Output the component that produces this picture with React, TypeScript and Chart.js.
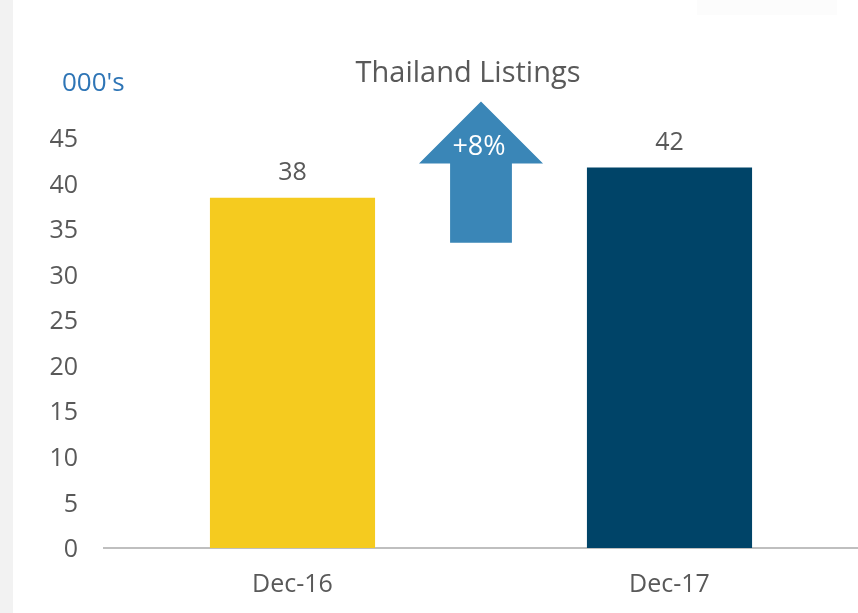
import React, { useEffect, useRef } from "react";
import { Chart, registerables } from "chart.js";

Chart.register(...registerables);

const categories = ["Dec-16", "Dec-17"];
const listings = [38.45, 41.75];
const barColors = ["#F5CB1F", "#004468"];
const yTicks = [0, 5, 10, 15, 20, 25, 30, 35, 40, 45];
const titleText = "Thailand Listings";
const unitText = "000's";
const changeText = "+8%";
// arrow geometry in data units (x in category index, y in axis value)
const arrowX = [0.5];
const arrowTipValue = [49.0];
const arrowHeadBaseValue = [42.2];
const arrowBottomValue = [33.5];
const arrowHeadHalf = [0.1645];
const arrowShaftHalf = [0.082];
const arrowTextValue = [43.1];

const FONT = "'Open Sans', sans-serif";
const GREY = "#595959";

const overlayPlugin = {
  id: "overlay",
  afterDatasetsDraw(chart: any) {
    const ctx = chart.ctx;
    const xs = chart.scales.x;
    const ys = chart.scales.y;
    ctx.save();
    // data labels
    const meta = chart.getDatasetMeta(0);
    ctx.fillStyle = GREY;
    ctx.font = `25px ${FONT}`;
    ctx.textAlign = "center";
    ctx.textBaseline = "alphabetic";
    meta.data.forEach((bar: any, i: number) => {
      ctx.fillText(String(Math.round(listings[i])), bar.x, bar.y - 18);
    });
    // arrow
    const cx = xs.getPixelForValue(arrowX[0]);
    const hw = xs.getPixelForValue(arrowX[0] + arrowHeadHalf[0]) - cx;
    const sw = xs.getPixelForValue(arrowX[0] + arrowShaftHalf[0]) - cx;
    const yTip = ys.getPixelForValue(arrowTipValue[0]);
    const yBase = ys.getPixelForValue(arrowHeadBaseValue[0]);
    const yBot = ys.getPixelForValue(arrowBottomValue[0]);
    ctx.fillStyle = "#3A86B7";
    ctx.beginPath();
    ctx.moveTo(cx, yTip);
    ctx.lineTo(cx + hw, yBase);
    ctx.lineTo(cx + sw, yBase);
    ctx.lineTo(cx + sw, yBot);
    ctx.lineTo(cx - sw, yBot);
    ctx.lineTo(cx - sw, yBase);
    ctx.lineTo(cx - hw, yBase);
    ctx.closePath();
    ctx.fill();
    ctx.fillStyle = "#ffffff";
    ctx.font = `27px ${FONT}`;
    ctx.fillText(changeText, cx - 2, ys.getPixelForValue(arrowTextValue[0]));
    // title
    ctx.fillStyle = GREY;
    ctx.font = `29px ${FONT}`;
    ctx.fillText(titleText, 468, 82);
    // unit
    ctx.fillStyle = "#2E75B6";
    ctx.font = `26px ${FONT}`;
    ctx.textAlign = "left";
    ctx.fillText(unitText, 62, 91);
    ctx.restore();
  },
};

export default function App() {
  const ref = useRef<HTMLCanvasElement>(null);
  useEffect(() => {
    document.body.style.margin = "0";
    const chart = new Chart(ref.current!, {
      type: "bar",
      data: {
        labels: categories,
        datasets: [
          {
            data: listings,
            backgroundColor: barColors,
            categoryPercentage: 1,
            barPercentage: 0.438,
          },
        ],
      },
      options: {
        animation: false,
        responsive: false,
        layout: { padding: { top: 138, left: 0, right: 0, bottom: 0 } },
        plugins: { legend: { display: false }, tooltip: { enabled: false }, title: { display: false } },
        scales: {
          x: {
            grid: { display: false, drawTicks: false },
            border: { display: true, color: "#BFBFBF", width: 2 },
            ticks: { color: GREY, font: { family: FONT, size: 25 }, padding: 22 },
            afterFit(scale: any) {
              scale.height = 65;
            },
          },
          y: {
            min: 0,
            max: 45,
            grid: { display: false, drawTicks: false },
            border: { display: false },
            afterBuildTicks(scale: any) {
              scale.ticks = yTicks.map((v) => ({ value: v }));
            },
            ticks: { color: GREY, font: { family: FONT, size: 25 }, padding: 26, labelOffset: 2 },
            afterFit(scale: any) {
              scale.width = 104;
            },
          },
        },
      },
      plugins: [overlayPlugin],
    });
    return () => chart.destroy();
  }, []);
  return (
    <div style={{ position: "relative", width: 858, height: 613, background: "#ffffff", overflow: "hidden" }}>
      <canvas ref={ref} width={858} height={613} style={{ position: "absolute", left: 0, top: 0 }} />
      <div style={{ position: "absolute", left: 0, top: 0, width: 13, height: 613, background: "#F2F2F2" }} />
      <div style={{ position: "absolute", left: 697, top: 0, width: 140, height: 15, background: "#FCFCFC" }} />
    </div>
  );
}
